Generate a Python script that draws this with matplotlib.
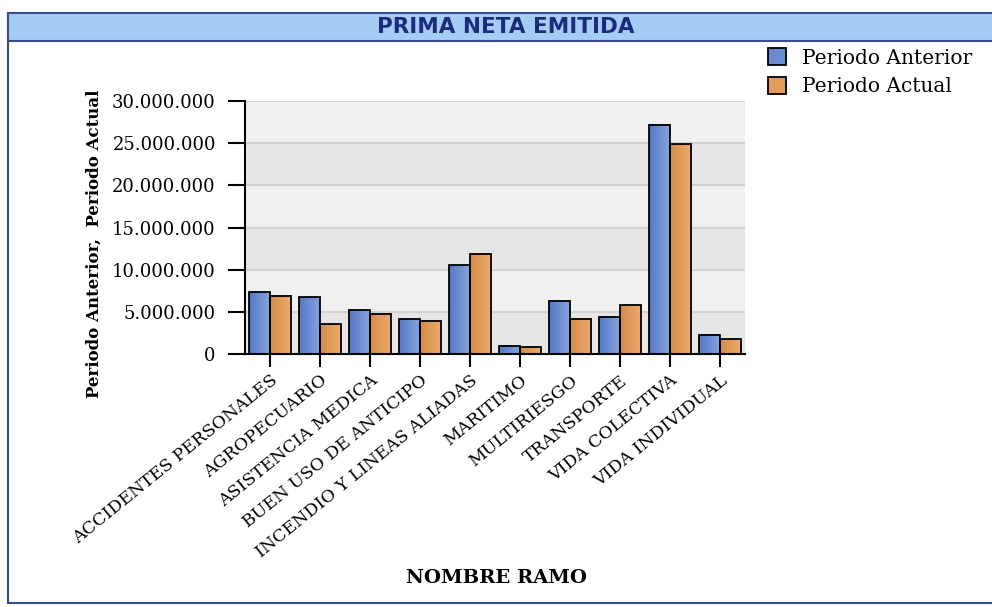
import numpy as np
import matplotlib.pyplot as plt
from matplotlib.patches import Rectangle
from matplotlib.colors import LinearSegmentedColormap
from matplotlib.ticker import FuncFormatter

# Datos
ramos = ['ACCIDENTES PERSONALES', 'AGROPECUARIO', 'ASISTENCIA MEDICA',
         'BUEN USO DE ANTICIPO', 'INCENDIO Y LINEAS ALIADAS', 'MARITIMO',
         'MULTIRIESGO', 'TRANSPORTE', 'VIDA COLECTIVA', 'VIDA INDIVIDUAL']
periodo_anterior = [7300000, 6700000, 5200000, 4100000, 10550000,
                    1000000, 6300000, 4400000, 27200000, 2300000]
periodo_actual = [6900000, 3500000, 4800000, 3900000, 11900000,
                  800000, 4100000, 5800000, 24900000, 1750000]
y_ticks = [0, 5000000, 10000000, 15000000, 20000000, 25000000, 30000000]

serif = 'DejaVu Serif'

fig = plt.figure(figsize=(9.92, 6.07), dpi=100)
ax = fig.add_axes([0.247, 0.4168, 0.504, 0.4168])

# marco exterior y barra del titulo
fig.patches.append(Rectangle((0.008, 0.007), 1.1, 0.972, transform=fig.transFigure,
                             facecolor='white', edgecolor='#3a4a8a', linewidth=1.5, zorder=-2))
fig.patches.append(Rectangle((0.008, 0.933), 1.1, 0.046, transform=fig.transFigure,
                             facecolor='#a6cbf5', edgecolor='#3a4a8a', linewidth=1.5, zorder=-1))
fig.text(0.51, 0.955, 'PRIMA NETA EMITIDA', ha='center', va='center',
         fontsize=15.5, fontweight='bold', color='#1b2d7a', family='DejaVu Sans')

# bandas alternas de fondo
for i in range(len(y_ticks) - 1):
    c = '#e6e6e6' if i % 2 == 0 else '#f0f0f0'
    ax.axhspan(y_ticks[i], y_ticks[i + 1], color=c, zorder=0, lw=0)
for t in y_ticks[1:]:
    ax.axhline(t, color='#d2d2d2', lw=1.5, zorder=1)

x = np.arange(len(ramos))
w = 0.42
b1 = ax.bar(x - w / 2, periodo_anterior, w, color='#6a8bd0', edgecolor='black', lw=1.3, zorder=3)
b2 = ax.bar(x + w / 2, periodo_actual, w, color='#e29c5c', edgecolor='black', lw=1.3, zorder=3)

# degradado horizontal en las barras
cm_blue = LinearSegmentedColormap.from_list('b', ['#5577c4', '#86a3de'])
cm_orange = LinearSegmentedColormap.from_list('o', ['#d48a48', '#eeac6e'])
grad = np.linspace(0, 1, 50).reshape(1, -1)
for bars, cm in ((b1, cm_blue), (b2, cm_orange)):
    for p in bars:
        x0, h, bw = p.get_x(), p.get_height(), p.get_width()
        ax.imshow(grad, cmap=cm, aspect='auto', extent=(x0, x0 + bw, 0, h), zorder=2.5)
        p.set_facecolor('none')

ax.set_xlim(-0.5, len(ramos) - 0.5)
ax.set_ylim(0, 30000000)
ax.set_yticks(y_ticks)
ax.yaxis.set_major_formatter(FuncFormatter(lambda v, p: f'{int(v):,}'.replace(',', '.')))
ax.set_xticks(x)
ax.set_xticklabels(ramos, rotation=39, ha='right', rotation_mode='anchor',
                   fontsize=12.5, family=serif)
for lab in ax.get_yticklabels():
    lab.set_family(serif)
    lab.set_fontsize(13)
ax.tick_params(axis='y', length=12, width=1.5, pad=9)
ax.tick_params(axis='x', length=9, width=1.5, pad=4)

for s in ['top', 'right']:
    ax.spines[s].set_visible(False)
ax.spines['left'].set_linewidth(1.5)
ax.spines['bottom'].set_linewidth(1.5)

ax.set_ylabel('Periodo Anterior,  Periodo Actual', fontsize=12, fontweight='bold',
              family=serif)
ax.yaxis.set_label_coords(-0.284, 0.435)
fig.text(0.5, 0.047, 'NOMBRE RAMO', ha='center', va='center', fontsize=14,
         fontweight='bold', family=serif)

leg = fig.legend([b1, b2], ['Periodo Anterior', 'Periodo Actual'],
                 loc='upper left', bbox_to_anchor=(0.756, 0.95), frameon=False,
                 prop={'family': serif, 'size': 14.5}, handlelength=0.9, handleheight=0.9,
                 handletextpad=0.8, labelspacing=0.45)
leg.legend_handles[0].set_facecolor('#6a8bd0')
leg.legend_handles[1].set_facecolor('#e29c5c')

plt.savefig('out.png', dpi=100)
